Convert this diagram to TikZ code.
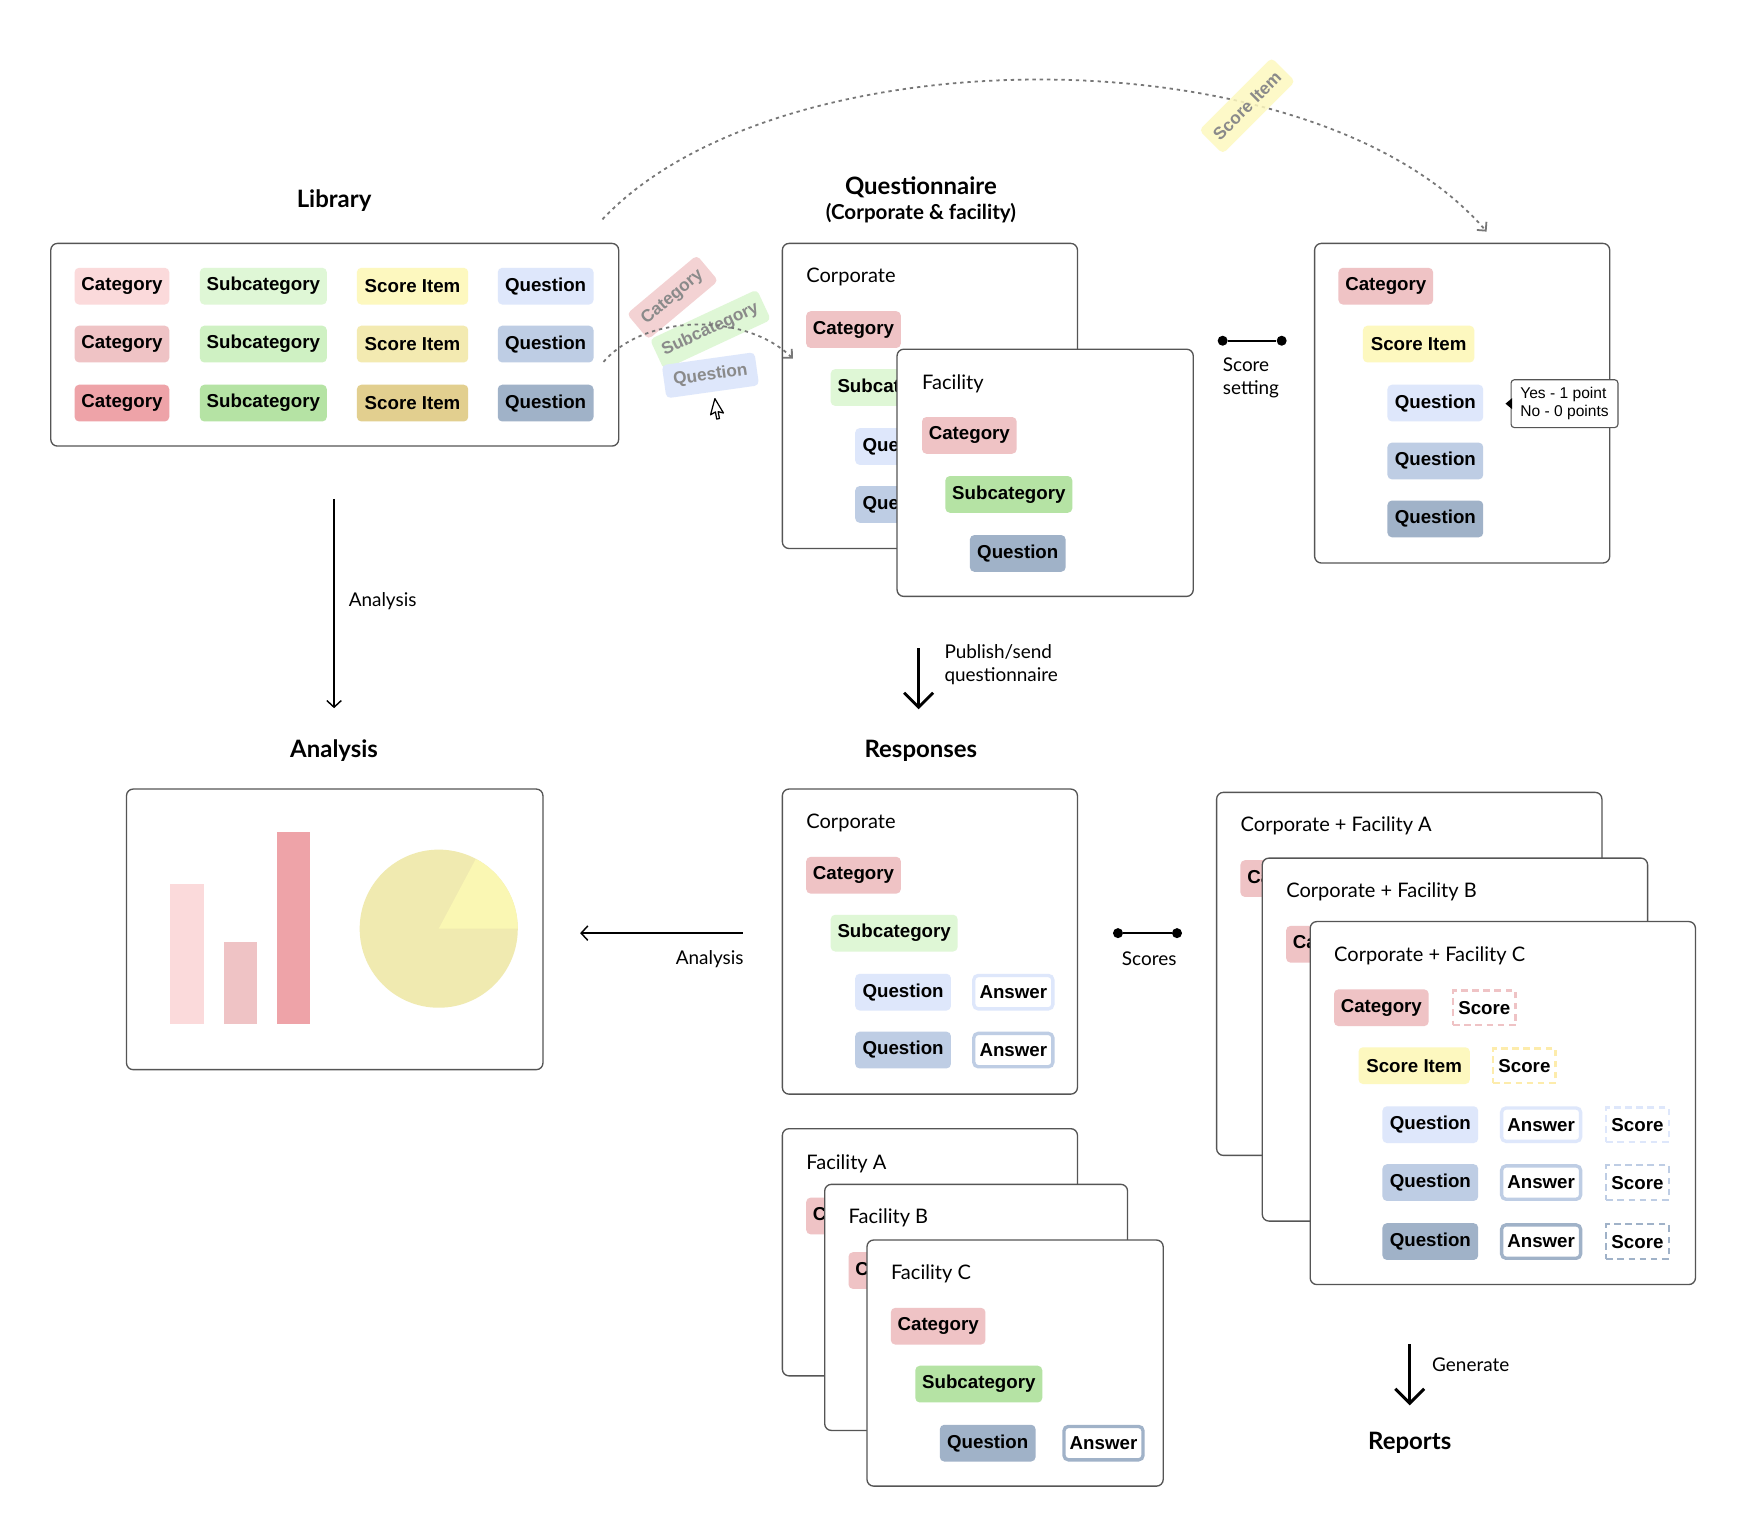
\documentclass[tikz,border=0pt]{standalone}
\usepackage{fontspec}
\setmainfont{Lato}
\newfontfamily\chipfont{Liberation Sans}
\usetikzlibrary{arrows.meta}
\definecolor{catA}{HTML}{FBDADB}
\definecolor{catB}{HTML}{EFC3C5}
\definecolor{catC}{HTML}{EEA3A8}
\definecolor{subA}{HTML}{DFF7D6}
\definecolor{subB}{HTML}{CFF1C3}
\definecolor{subC}{HTML}{B5E3A4}
\definecolor{scoA}{HTML}{FDF8BF}
\definecolor{scoB}{HTML}{F3EAB1}
\definecolor{scoC}{HTML}{E2CF8F}
\definecolor{queA}{HTML}{DEE7FB}
\definecolor{queB}{HTML}{BECDE4}
\definecolor{queC}{HTML}{A0B2C8}
\definecolor{pieM}{HTML}{F0EAB0}
\definecolor{pieL}{HTML}{FAF7B3}
\definecolor{boxgray}{HTML}{555555}
\definecolor{dashgray}{HTML}{777777}
\definecolor{ghosttext}{HTML}{8A8A8A}
\newcommand{\pnl}[5]{\node[box, anchor=north west, minimum width=#4pt, minimum height=#5pt] (#1) at (#2,#3) {};}
\begin{document}
\begin{tikzpicture}[x=1pt,y=-1pt,
  box/.style={draw=boxgray, line width=1.2pt, rounded corners=6pt, fill=white, inner sep=0pt},
  chip/.style={rounded corners=4pt, minimum height=33pt, inner sep=0pt, text=black,
    font=\chipfont\fontsize{16.8}{18}\selectfont\bfseries},
  cat/.style={chip, minimum width=85pt},
  sub/.style={chip, minimum width=114pt},
  sitem/.style={chip, minimum width=100pt},
  ques/.style={chip, minimum width=86pt},
  ans/.style={chip, minimum width=71pt, minimum height=30pt, fill=white, line width=3pt},
  scr/.style={chip, minimum width=56pt, minimum height=31pt, rounded corners=0pt, line width=2pt, dash pattern=on 6pt off 4pt},
  ghost/.style={chip, text=ghosttext, font=\chipfont\fontsize{15.5}{18}\selectfont\bfseries, minimum height=30pt},
  lbl/.style={anchor=west, inner sep=0pt, font=\fontsize{18}{21}\selectfont},
  note/.style={inner sep=0pt, font=\fontsize{17}{20.5}\selectfont},
  ttl/.style={inner sep=0pt, font=\fontsize{21.5}{25}\selectfont\bfseries},
  dotn/.style={circle, fill=black, inner sep=0pt, minimum size=9pt},
  dsh/.style={draw=dashgray, line width=1.6pt, dash pattern=on 3pt off 3.5pt, -{Straight Barb[angle=90:8pt, line width=1.6pt]}},
  thinarrow/.style={line width=1.3pt, -{Straight Barb[length=6pt, width=13pt, line width=1.3pt]}},
  bigarrow/.style={line width=2.6pt, -{Straight Barb[length=13pt, width=26pt, line width=2.6pt]}}
]
\path[use as bounding box, fill=white] (0,0) rectangle (1568,1383);

% ---------------- Library ----------------
\node[ttl] (tlib) at (300,180) {Library};
\pnl{lib}{45}{218}{510}{182}
\node[cat, fill=catA] (l11) at (109.5,257) {Category};
\node[sub, fill=subA] (l12) at (236.5,257) {Subcategory};
\node[sitem, fill=scoA] (l13) at (370.5,257) {Score Item};
\node[ques, fill=queA] (l14) at (490,257) {Question};
\node[cat, fill=catB] (l21) at (109.5,309) {Category};
\node[sub, fill=subB] (l22) at (236.5,309) {Subcategory};
\node[sitem, fill=scoB] (l23) at (370.5,309) {Score Item};
\node[ques, fill=queB] (l24) at (490,309) {Question};
\node[cat, fill=catC] (l31) at (109.5,362) {Category};
\node[sub, fill=subC] (l32) at (236.5,362) {Subcategory};
\node[sitem, fill=scoC] (l33) at (370.5,362) {Score Item};
\node[ques, fill=queC] (l34) at (490,362) {Question};

% ---------------- Questionnaire ----------------
\node[ttl] (tq) at (827,168) {Questionnaire};
\node[inner sep=0pt, font=\fontsize{18.5}{22}\selectfont\bfseries] (tq2) at (827,191) {(Corporate \& facility)};
\pnl{qc}{702}{218}{265}{274}
\node[lbl] (qcl) at (724,249) {Corporate};
\node[cat, fill=catB] (qc1) at (766.5,296) {Category};
\node[sub, fill=subA] (qc2) at (803,348) {Subcategory};
\node[ques, fill=queA] (qc3) at (811,401) {Question};
\node[ques, fill=queB] (qc4) at (811,453) {Question};
\pnl{qf}{805}{313}{266}{222}
\node[lbl] (qfl) at (828,345) {Facility};
\node[cat, fill=catB] (qf1) at (870.5,391) {Category};
\node[sub, fill=subC] (qf2) at (906,444) {Subcategory};
\node[ques, fill=queC] (qf3) at (914,497) {Question};

% ---------------- Score setting ----------------
\node[dotn] (ss1) at (1098,306) {};
\node[dotn] (ss2) at (1151,306) {};
\draw[line width=2pt] (ss1) -- (ss2);
\node[note, anchor=north west, align=left] (ssl) at (1098,321) {Score\\setting};
\pnl{sc}{1180}{218}{265}{287}
\node[cat, fill=catB] (sc1) at (1244.5,257) {Category};
\node[sitem, fill=scoA] (sc2) at (1274,309) {Score Item};
\node[ques, fill=queA] (sc3) at (1289,362) {Question};
\node[ques, fill=queB] (sc4) at (1289,414) {Question};
\node[ques, fill=queC] (sc5) at (1289,466) {Question};
\node[draw=boxgray, line width=1pt, rounded corners=3pt, fill=white, minimum width=96pt, minimum height=43pt, inner sep=3pt, align=left, font=\chipfont\fontsize{14}{16.5}\selectfont] (tip) at (1405,362.5) {Yes - 1 point\\No - 0 points};
\fill (1352,362.5) -- (1358,357.5) -- (1358,367.5) -- cycle;

% ---------------- Dashed drag arcs ----------------
\coordinate (d1) at (541,197);
\coordinate (d2) at (1335,208);
\draw[dsh] (d1) .. controls (700,28) and (1181,28) .. (d2);
\node[ghost, fill=scoA, fill opacity=0.85, text opacity=1, rotate=45, minimum width=92pt] (gsi) at (1120,95) {Score Item};

\node[ghost, fill=catB!75, rotate=40, minimum width=82pt] (gcat) at (604,267) {Category};
\node[ghost, fill=subA, rotate=25, minimum width=106pt] (gsub) at (638,296) {Subcategory};
\node[ghost, fill=queA, rotate=8, minimum width=84pt] (gque) at (638,337) {Question};
\coordinate (e1) at (542,325);
\coordinate (e2) at (712,322);
\draw[dsh] (e1) .. controls (580,281) and (670,281) .. (e2);
% cursor
\begin{scope}[shift={(642,358)}, rotate=-15]
\draw[fill=white, line width=1.1pt, line join=round] (0,0) -- (0,15) -- (3.6,11.4) -- (6.3,17.3) -- (8.6,16.2) -- (5.9,10.5) -- (10.8,10.5) -- cycle;
\end{scope}

% ---------------- Analysis ----------------
\coordinate (a1) at (300,448);
\coordinate (a2) at (300,636);
\draw[thinarrow] (a1) -- (a2);
\node[note, anchor=west] (al1) at (313,540) {Analysis};
\node[ttl] (tan) at (300,674) {Analysis};
\pnl{an}{113}{708}{374}{252}
\fill[catA] (153,794) rectangle (183,920);
\fill[catB] (201,846) rectangle (231,920);
\fill[catC] (249,747) rectangle (278,920);
\fill[pieM] (394,834) circle (71pt);
\fill[pieL] (394,834) -- ++(0:71pt) arc[start angle=0, end angle=62, radius=71pt] -- cycle;

% ---------------- Publish ----------------
\coordinate (p1) at (825,582);
\coordinate (p2) at (825,637);
\draw[bigarrow] (p1) -- (p2);
\node[note, anchor=north west, align=left] (pl) at (848,579) {Publish/send\\questionnaire};

% ---------------- Responses ----------------
\node[ttl] (tr) at (827,674) {Responses};
\pnl{rc}{702}{708}{265}{274}
\node[lbl] (rcl) at (724,739) {Corporate};
\node[cat, fill=catB] (rc1) at (766.5,786) {Category};
\node[sub, fill=subA] (rc2) at (803,838) {Subcategory};
\node[ques, fill=queA] (rc3) at (811,891) {Question};
\node[ans, draw=queA] (rc4) at (910,891) {Answer};
\node[ques, fill=queB] (rc5) at (811,943) {Question};
\node[ans, draw=queB] (rc6) at (910,943) {Answer};

\pnl{fa}{702}{1013}{265}{222}
\node[lbl] (fal) at (724,1045) {Facility A};
\node[cat, fill=catB] (fa1) at (766.5,1092) {Category};
\pnl{fb}{740}{1063}{272}{221}
\node[lbl] (fbl) at (762,1094) {Facility B};
\node[cat, fill=catB] (fb1) at (804.5,1141) {Category};
\pnl{fc}{778}{1113}{266}{221}
\node[lbl] (fcl) at (800,1144) {Facility C};
\node[cat, fill=catB] (fc1) at (842.5,1191) {Category};
\node[sub, fill=subC] (fc2) at (879,1243) {Subcategory};
\node[ques, fill=queC] (fc3) at (887,1296) {Question};
\node[ans, draw=queC] (fc4) at (991,1296) {Answer};

% left analysis arrow
\coordinate (b1) at (667,838);
\coordinate (b2) at (521,838);
\draw[thinarrow] (b1) -- (b2);
\node[note, anchor=east] (bl) at (668,861) {Analysis};

% scores
\node[dotn] (sr1) at (1004,838) {};
\node[dotn] (sr2) at (1057,838) {};
\draw[line width=2pt] (sr1) -- (sr2);
\node[note] (srl) at (1032,861) {Scores};

% ---------------- Corporate + Facility ----------------
\pnl{ca}{1092}{711}{346}{326}
\node[lbl] (cal) at (1114,742) {Corporate + Facility A};
\node[cat, fill=catB] (ca1) at (1156.5,789) {Category};
\pnl{cb}{1133}{770}{346}{326}
\node[lbl] (cbl) at (1155,801) {Corporate + Facility B};
\node[cat, fill=catB] (cb1) at (1197.5,848) {Category};
\pnl{cc}{1176}{827}{346}{326}
\node[lbl] (ccl) at (1198,858) {Corporate + Facility C};
\node[cat, fill=catB] (cc1) at (1240.5,905) {Category};
\node[scr, draw=catB] (cc2) at (1333,905) {Score};
\node[sitem, fill=scoA] (cc3) at (1270,957) {Score Item};
\node[scr, draw=scoA!90!orange] (cc4) at (1369,957) {Score};
\node[ques, fill=queA] (cq1) at (1284.5,1010) {Question};
\node[ans, draw=queA] (cn1) at (1384,1010) {Answer};
\node[scr, draw=queA] (cs1) at (1470.5,1010) {Score};
\node[ques, fill=queB] (cq2) at (1284.5,1062) {Question};
\node[ans, draw=queB] (cn2) at (1384,1062) {Answer};
\node[scr, draw=queB] (cs2) at (1470.5,1062) {Score};
\node[ques, fill=queC] (cq3) at (1284.5,1115) {Question};
\node[ans, draw=queC] (cn3) at (1384,1115) {Answer};
\node[scr, draw=queC] (cs3) at (1470.5,1115) {Score};

% ---------------- Reports ----------------
\coordinate (g1) at (1266,1207);
\coordinate (g2) at (1266,1262);
\draw[bigarrow] (g1) -- (g2);
\node[note, anchor=west] (gl) at (1286,1226) {Generate};
\node[ttl] (trep) at (1266,1296) {Reports};
\end{tikzpicture}
\end{document}
